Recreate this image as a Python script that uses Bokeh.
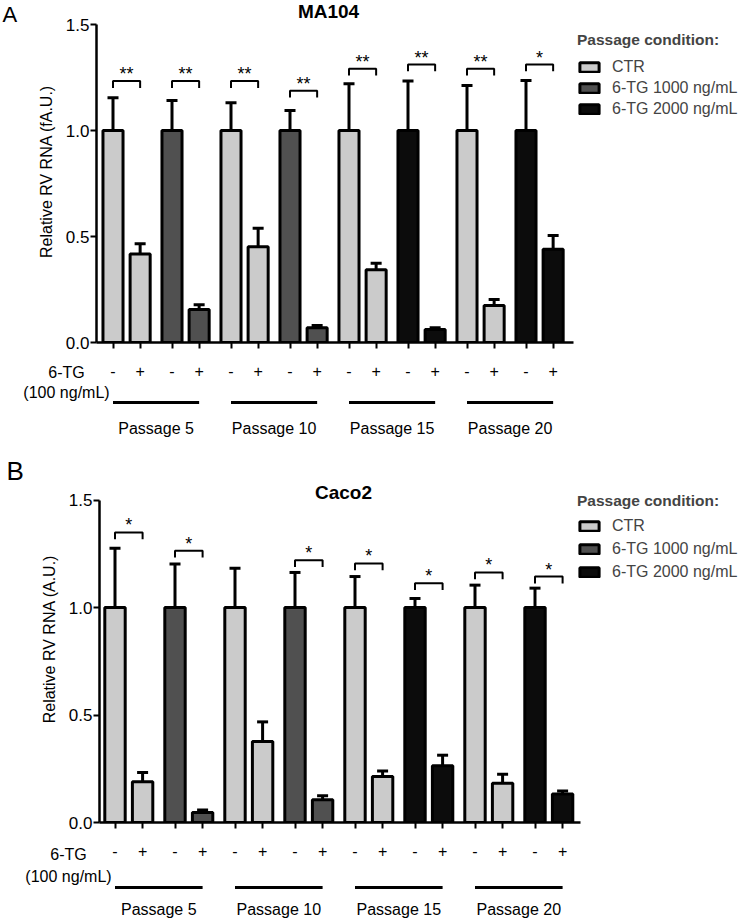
from bokeh.plotting import figure
from bokeh.layouts import column, row
from bokeh.models import (ColumnDataSource, Range1d, FixedTicker, Legend, LegendItem,
                          Label, NumeralTickFormatter)
from bokeh.core.properties import value
from bokeh.embed import file_html
from bokeh.resources import INLINE

FONT = "Liberation Sans"

# ---------------- data ----------------
passages = ["Passage 5", "Passage 10", "Passage 15", "Passage 20"]
treatment_labels = ["-", "+"]
conditions = ["CTR", "6-TG 1000 ng/mL", "6-TG 2000 ng/mL"]
condition_colors = ["#cbcbcb", "#505050", "#0c0c0c"]
pair_condition = ["CTR", "6-TG 1000 ng/mL", "CTR", "6-TG 1000 ng/mL",
                  "CTR", "6-TG 2000 ng/mL", "CTR", "6-TG 2000 ng/mL"]

ma104_mean = [1.0, 0.418, 1.0, 0.156, 1.0, 0.452, 1.0, 0.069,
              1.0, 0.343, 1.0, 0.061, 1.0, 0.175, 1.0, 0.440]
ma104_sem = [0.154, 0.048, 0.142, 0.022, 0.131, 0.087, 0.094, 0.011,
             0.220, 0.031, 0.234, 0.008, 0.212, 0.028, 0.236, 0.065]
ma104_sig_pair = [0, 1, 2, 3, 4, 5, 6, 7]
ma104_sig_height = [1.233, 1.233, 1.233, 1.188, 1.291, 1.311, 1.291, 1.311]
ma104_sig_text = ["**", "**", "**", "**", "**", "**", "**", "*"]

caco2_mean = [1.0, 0.189, 1.0, 0.047, 1.0, 0.377, 1.0, 0.106,
              1.0, 0.214, 1.0, 0.264, 1.0, 0.183, 1.0, 0.132]
caco2_sem = [0.276, 0.044, 0.202, 0.011, 0.183, 0.091, 0.163, 0.018,
             0.144, 0.026, 0.042, 0.049, 0.104, 0.042, 0.090, 0.015]
caco2_sig_pair = [0, 1, 3, 4, 5, 6, 7]
caco2_sig_height = [1.349, 1.264, 1.220, 1.205, 1.113, 1.163, 1.144]
caco2_sig_text = ["*", "*", "*", "*", "*", "*", "*"]

y_ticks = [0.0, 0.5, 1.0, 1.5]

# ---------------- layout constants ----------------
W = 743
LW = 24            # width of the panel-letter strip
WITHIN = 0.46      # offset of "+" bar inside a pair (pair units)
BAR_W = 0.34
n_pairs = len(pair_condition)
bar_x = [i + WITHIN * j for i in range(n_pairs) for j in range(2)]
bar_cond = [pair_condition[k // 2] for k in range(len(bar_x))]


def blank(width, height, xr, yr):
    f = figure(width=width, height=height, output_backend="svg", toolbar_location=None,
               x_range=xr, y_range=yr, x_axis_type=None, y_axis_type=None,
               min_border_left=0, min_border_right=0, min_border_top=0, min_border_bottom=0)
    f.outline_line_color = None
    f.grid.visible = False
    f.background_fill_color = "white"
    f.border_fill_color = "white"
    return f


def make_panel(mean, sem, sig_pair, sig_h, sig_text, title, letter, ylabel, g):
    ppx = g["px_per_pair"]
    x_start = -(g["first_center"] - g["frame_left"]) / ppx
    x_end = x_start + (W - g["frame_left"]) / ppx
    axis_end = (g["axis_right"] - g["first_center"]) / ppx
    frame_h = g["main_h"] - g["bottom_border"]
    y_end = frame_h / g["px_per_unit"]

    p = figure(width=W - LW, height=g["main_h"], output_backend="svg", toolbar_location=None,
               x_range=Range1d(x_start, x_end), y_range=Range1d(0, y_end),
               min_border_left=g["frame_left"] - LW, min_border_right=0,
               min_border_top=0, min_border_bottom=g["bottom_border"])
    p.outline_line_color = None
    p.grid.visible = False
    p.background_fill_color = "white"
    p.border_fill_color = "white"

    # axes
    xa = p.xaxis[0]
    xa.ticker = FixedTicker(ticks=bar_x)
    xa.bounds = (x_start, axis_end)
    xa.major_label_text_font_size = "1px"
    xa.major_label_text_color = None
    xa.major_label_standoff = 0
    xa.major_tick_in = 0
    xa.major_tick_out = 6
    xa.minor_tick_line_color = None
    xa.axis_line_width = 2.5
    xa.major_tick_line_width = 2
    xa.axis_line_color = "black"
    xa.major_tick_line_color = "black"

    ya = p.yaxis[0]
    ya.ticker = FixedTicker(ticks=y_ticks)
    ya.formatter = NumeralTickFormatter(format="0.0")
    ya.bounds = (0, 1.5)
    ya.major_tick_in = 0
    ya.major_tick_out = 6
    ya.minor_tick_line_color = None
    ya.axis_line_width = 2.5
    ya.major_tick_line_width = 2
    ya.axis_line_color = "black"
    ya.major_tick_line_color = "black"
    ya.major_label_standoff = 1
    ya.major_label_text_font = FONT
    ya.major_label_text_font_size = "17px"
    ya.major_label_text_color = "black"
    ya.axis_label = ylabel
    ya.axis_label_text_font = FONT
    ya.axis_label_text_font_size = "16px"
    ya.axis_label_text_font_style = "normal"
    ya.axis_label_text_color = "black"
    ya.axis_label_standoff = 8

    # bars per condition
    items = []
    for cond, col in zip(conditions, condition_colors):
        idx = [k for k in range(len(bar_x)) if bar_cond[k] == cond]
        src = ColumnDataSource(dict(x=[bar_x[k] for k in idx], top=[mean[k] for k in idx]))
        r = p.vbar(x="x", top="top", bottom=0, width=BAR_W, source=src,
                   fill_color=col, line_color="black", line_width=3)
        items.append(LegendItem(label=cond, renderers=[r]))

    # error bars (upper only)
    esrc = ColumnDataSource(dict(x=bar_x, y0=mean, y1=[m + s for m, s in zip(mean, sem)]))
    p.segment(x0="x", y0="y0", x1="x", y1="y1", source=esrc, line_color="black", line_width=3)
    p.dash(x="x", y="y1", source=esrc, size=11, line_color="black", line_width=3)

    # significance brackets
    drop = 0.032
    xs, ys, tx = [], [], []
    for pi, h in zip(sig_pair, sig_h):
        x0, x1 = pi, pi + WITHIN
        xs.append([x0, x0, x1, x1])
        ys.append([h - drop, h, h, h - drop])
        tx.append((x0 + x1) / 2)
    p.multi_line(xs=xs, ys=ys, line_color="black", line_width=2)
    p.text(x=tx, y=sig_h, text=sig_text, text_align="center", text_baseline="alphabetic",
           y_offset=-7, text_font=value(FONT), text_font_size="18px", text_color="black")

    # legend
    leg = Legend(items=items, location=g["legend_loc"], title="Passage condition:",
                 title_text_font=FONT, title_text_font_style="bold", title_text_font_size="15.5px",
                 title_standoff=g["legend_standoff"], label_text_font=FONT, label_text_font_size="16px",
                 glyph_width=24, glyph_height=12, label_standoff=11, label_height=20,
                 spacing=g["legend_spacing"], padding=0, margin=0,
                 border_line_color=None, background_fill_alpha=0)
    p.add_layout(leg)

    # panel title
    p.add_layout(Label(x=(g["title_x"] - g["first_center"]) / ppx, y=frame_h - g["title_top"],
                       x_units="data", y_units="screen", text=title, text_align="center",
                       text_baseline="top", text_font=FONT, text_font_style="bold",
                       text_font_size="19px", text_color="black"))

    # panel letter strip
    lf = blank(LW, g["main_h"], Range1d(0, LW), Range1d(g["main_h"], 0))
    lf.text(x=[g["letter_x"]], y=[g["letter_top"]], text=[letter], text_align="left",
            text_baseline="top", text_font=value(FONT), text_font_size=g["letter_size"],
            text_color="black")

    # sub figure with x-label rows
    sx_start = x_start - g["frame_left"] / ppx
    sh = g["sub_h"]
    s = blank(W, sh, Range1d(sx_start, x_end), Range1d(sh, 0))

    sign = [treatment_labels[k % 2] for k in range(len(bar_x))]
    s.text(x=bar_x, y=[g["row_sign"]] * len(bar_x), text=sign, text_align="center",
           text_baseline="middle", text_font=value(FONT), text_font_size="16px", text_color="black")
    lab_x = (g["lab_x"] - g["first_center"]) / ppx
    s.text(x=[lab_x, lab_x], y=[g["row_tg"], g["row_conc"]], text=["6-TG", "(100 ng/mL)"],
           text_align="center", text_baseline="middle", text_font=value(FONT),
           text_font_size="16px", text_color="black")
    px0 = [2 * k for k in range(len(passages))]
    px1 = [2 * k + 1 + WITHIN for k in range(len(passages))]
    s.segment(x0=px0, y0=[g["row_line"]] * len(passages), x1=px1, y1=[g["row_line"]] * len(passages),
              line_color="black", line_width=3)
    s.text(x=[(a + b) / 2 for a, b in zip(px0, px1)], y=[g["row_pass"]] * len(passages),
           text=passages, text_align="center", text_baseline="middle", text_font=value(FONT),
           text_font_size="16px", text_color="black")
    return row(lf, p, spacing=0), s


geomA = dict(px_per_pair=59.0, first_center=112.5, frame_left=96, axis_right=573,
             main_h=352, bottom_border=10, px_per_unit=212.0,
             legend_loc=(481, 223), legend_spacing=1, legend_standoff=8,
             title_x=328, title_top=0, letter_x=2, letter_top=2, letter_size="22px", lab_x=66,
             sub_h=103, row_sign=18, row_tg=20, row_conc=40, row_line=50, row_pass=76)
geomB = dict(px_per_pair=60.0, first_center=114.5, frame_left=99, axis_right=580,
             main_h=377, bottom_border=10, px_per_unit=215.0,
             legend_loc=(478, 240), legend_spacing=3, legend_standoff=6,
             title_x=343, title_top=26, letter_x=6, letter_top=1, letter_size="26px", lab_x=68,
             sub_h=90, row_sign=18, row_tg=22, row_conc=44, row_line=55, row_pass=77)

rowA, sA = make_panel(ma104_mean, ma104_sem, ma104_sig_pair, ma104_sig_height, ma104_sig_text,
                      "MA104", "A", "Relative RV RNA (fA.U.)", geomA)
rowB, sB = make_panel(caco2_mean, caco2_sem, caco2_sig_pair, caco2_sig_height, caco2_sig_text,
                      "Caco2", "B", "Relative RV RNA (A.U.)", geomB)

layout = column(rowA, sA, rowB, sB, spacing=0)
open("out.html", "w").write(file_html(layout, INLINE))
